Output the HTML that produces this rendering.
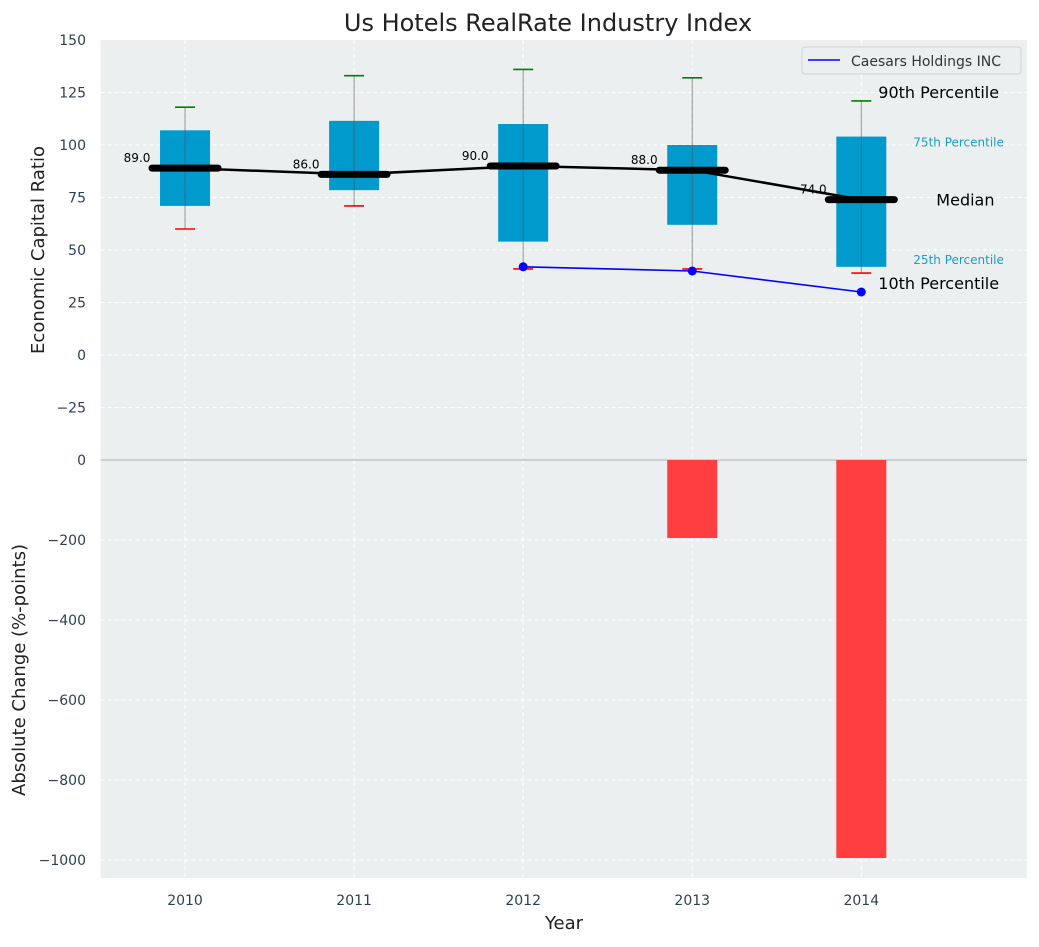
<!DOCTYPE html>
<html><head><meta charset="utf-8"><style>
body{margin:0;background:#fff;font-family:"Liberation Sans","DejaVu Sans",sans-serif}
svg text{font-family:"DejaVu Sans","Liberation Sans",sans-serif}
</style></head><body>
<svg id="c" width="1039" height="942" xmlns="http://www.w3.org/2000/svg"></svg>
<script>
const years=[2010,2011,2012,2013,2014];
const p10=[60,71,41,41,39];
const q1=[71,78.5,54,62,42];
const med=[89,86,90,88,74];
const q3=[107,111.5,110,100,104];
const p90=[118,133,136,132,121];
const caesarYears=[2012,2013,2014];
const caesarVals=[42,40,30];
const changeYears=[2013,2014];
const changeVals=[-195,-995];
const topTicks=[-25,0,25,50,75,100,125,150];
const botTicks=[-1000,-800,-600,-400,-200,0];

const svg=document.getElementById('c');
const NS='http://www.w3.org/2000/svg';
function el(t,a,txt){const e=document.createElementNS(NS,t);for(const k in a)e.setAttribute(k,a[k]);if(txt!==undefined)e.textContent=txt;svg.appendChild(e);return e;}
const X0=100.5,X1=1027;
const x=v=>X0+(v-2009.5)*(X1-X0)/5.48;
const yT=v=>460-(v+50)*2.1;
const yB=v=>460-v*0.4;

let r=el('rect',{x:X0,y:40,width:X1-X0,height:420,fill:'#ebeff0'});

r=el('rect',{x:X0,y:460,width:X1-X0,height:418,fill:'#ebeff0'});


years.forEach(yr=>{el('line',{x1:x(yr),x2:x(yr),y1:40,y2:878,stroke:'#fff','stroke-dasharray':'4,3','stroke-width':1});});
topTicks.forEach(t=>{
  if(t<150) el('line',{x1:X0,x2:X1,y1:yT(t),y2:yT(t),stroke:'#fff','stroke-dasharray':'4,3'});
  const tx=el('text',{x:86,y:yT(t)+5,'text-anchor':'end','font-size':14,fill:'#2e3f55'},t<0?'\u2212'+(-t):t);
  
});
botTicks.forEach(t=>{
  if(t<0) el('line',{x1:X0,x2:X1,y1:yB(t),y2:yB(t),stroke:'#fff','stroke-dasharray':'4,3'});
  const tx=el('text',{x:86,y:yB(t)+5,'text-anchor':'end','font-size':14,fill:'#2e3f55'},t<0?'\u2212'+(-t):t);
  
});
el('line',{x1:X0,x2:X1,y1:460,y2:460,stroke:'#b0b0b0','stroke-width':1});
years.forEach(yr=>{
  const tx=el('text',{x:x(yr),y:905,'text-anchor':'middle','font-size':14,fill:'#2e3f55'},yr);
  
});

years.forEach((yr,i)=>{
  const cx=x(yr);
  const b=el('rect',{x:cx-25,y:yT(q3[i]),width:50,height:yT(q1[i])-yT(q3[i]),fill:'#009acd'});
  
  el('line',{x1:cx,x2:cx,y1:yT(p90[i]),y2:yT(p10[i]),stroke:'#555','stroke-width':1,opacity:0.6});
  el('line',{x1:cx-10,x2:cx+10,y1:yT(p90[i]),y2:yT(p90[i]),stroke:'green','stroke-width':1.6});
  el('line',{x1:cx-10,x2:cx+10,y1:yT(p10[i]),y2:yT(p10[i]),stroke:'red','stroke-width':1.6});
});
const ml=el('polyline',{points:years.map((yr,i)=>x(yr)+','+yT(med[i])).join(' '),fill:'none',stroke:'#000','stroke-width':2.5});

years.forEach((yr,i)=>{
  const cx=x(yr);
  const m=el('line',{x1:cx-33,x2:cx+33,y1:yT(med[i]),y2:yT(med[i]),stroke:'#000','stroke-width':7,'stroke-linecap':'round'});
  
  el('text',{x:cx-48,y:yT(med[i])-6,'text-anchor':'middle','font-size':12,fill:'#000'},med[i].toFixed(1));
});
const cl=el('polyline',{points:caesarYears.map((yr,i)=>x(yr)+','+yT(caesarVals[i])).join(' '),fill:'none',stroke:'blue','stroke-width':1.6});

caesarYears.forEach((yr,i)=>{
  const p=el('circle',{cx:x(yr),cy:yT(caesarVals[i]),r:4.5,fill:'blue'});
  
});
const lx=x(2014);
el('text',{x:lx+17,y:yT(p90[4])-3,'font-size':16,fill:'#000'},'90th Percentile');
el('text',{x:lx+52,y:yT(q3[4])+10,'font-size':12,fill:'#1a9ec9'},'75th Percentile');
el('text',{x:lx+75,y:yT(med[4])+6,'font-size':16,fill:'#000'},'Median');
el('text',{x:lx+52,y:yT(q1[4])-3,'font-size':12,fill:'#1a9ec9'},'25th Percentile');
el('text',{x:lx+17,y:yT(caesarVals[2])-3,'font-size':16,fill:'#000'},'10th Percentile');
changeYears.forEach((yr,i)=>{
  const v=changeVals[i];
  const b=el('rect',{x:x(yr)-25,y:yB(0),width:50,height:yB(v)-yB(0),fill:'#ff3f3f'});
  
});
const lg=el('rect',{x:802,y:47,width:219,height:27,rx:3,fill:'#ebeff0',stroke:'#cfd3d5'});

el('line',{x1:808,x2:840,y1:60,y2:60,stroke:'blue','stroke-width':1.6});
el('text',{x:851,y:66,'font-size':14,fill:'#333'},'Caesars Holdings INC');
let t=el('text',{x:548,y:31,'text-anchor':'middle','font-size':24,fill:'#222'},'Us Hotels RealRate Industry Index');

t=el('text',{x:564,y:929,'text-anchor':'middle','font-size':18,fill:'#222'},'Year');

t=el('text',{x:0,y:0,'text-anchor':'middle','font-size':18,fill:'#222',transform:'translate(44,250) rotate(-90)'},'Economic Capital Ratio');

t=el('text',{x:0,y:0,'text-anchor':'middle','font-size':18,fill:'#222',transform:'translate(25,670) rotate(-90)'},'Absolute Change (%-points)');

</script>
</body></html>
